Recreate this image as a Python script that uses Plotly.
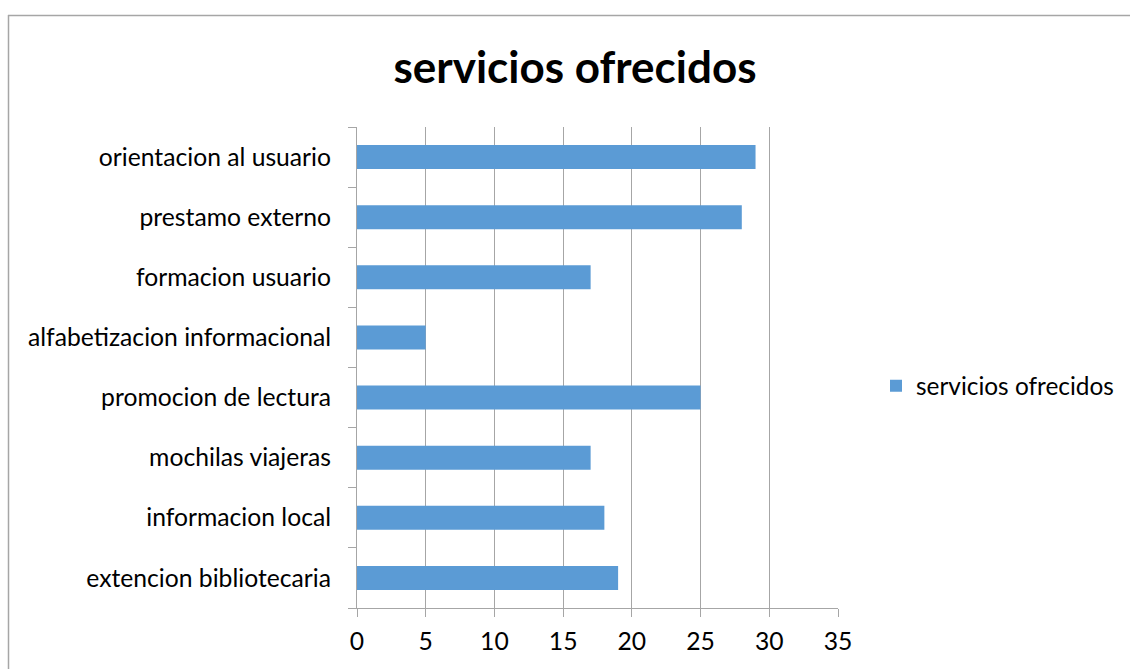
import plotly.graph_objects as go

# Services offered, listed bottom-to-top as they appear on the category axis
categories = [
    "extencion bibliotecaria",
    "informacion local",
    "mochilas viajeras",
    "promocion de lectura",
    "alfabetizacion informacional",
    "formacion usuario",
    "prestamo externo",
    "orientacion al usuario",
]
values = [19, 18, 17, 25, 5, 17, 28, 29]
x_ticks = [0, 5, 10, 15, 20, 25, 30, 35]
series_name = "servicios ofrecidos"

W, H = 1130, 669
L, R, T, B = 357, 838, 127, 608  # plot area in pixels
FONT = "Lato"
GRID = "#A6A6A6"
LABEL_SIZE = 24.7


def px_x(p):
    return (p - L) / (R - L)


def px_y(p):
    return (B - p) / (B - T)


fig = go.Figure(
    go.Bar(
        x=values,
        y=categories,
        orientation="h",
        width=0.4,
        marker=dict(color="#5B9BD5", line=dict(width=0)),
        name=series_name,
        showlegend=True,
    )
)

fig.update_layout(
    width=W,
    height=H,
    margin=dict(l=L, r=W - R, t=T, b=H - B, pad=0, autoexpand=False),
    paper_bgcolor="white",
    plot_bgcolor="white",
    font=dict(family=FONT, size=LABEL_SIZE, color="#000000"),
    title=dict(
        text="<b>servicios ofrecidos</b>",
        font=dict(family=FONT, size=44, color="#000000"),
        x=575 / W,
        xanchor="center",
        y=1 - 68 / H,
        yanchor="middle",
    ),
    legend=dict(
        xref="container",
        yref="container",
        x=876 / W,
        y=1 - 386 / H,
        xanchor="left",
        yanchor="middle",
        font=dict(family=FONT, size=24.4),
        bgcolor="rgba(0,0,0,0)",
        itemwidth=30,
    ),
    xaxis=dict(
        range=[0, 35],
        tickvals=x_ticks,
        showgrid=True,
        gridcolor=GRID,
        gridwidth=1,
        zeroline=False,
        showline=True,
        linecolor=GRID,
        linewidth=1,
        ticks="outside",
        ticklen=8,
        tickcolor=GRID,
        ticklabelstandoff=3,
        tickfont=dict(family=FONT, size=LABEL_SIZE),
        fixedrange=True,
    ),
    yaxis=dict(
        categoryorder="array",
        categoryarray=categories,
        showgrid=False,
        zeroline=False,
        showline=True,
        linecolor=GRID,
        linewidth=1,
        ticks="outside",
        tickson="boundaries",
        ticklen=8,
        tickcolor=GRID,
        ticklabelstandoff=20,
        tickfont=dict(family=FONT, size=LABEL_SIZE),
        fixedrange=True,
    ),
    shapes=[
        # chart frame (left and top edges)
        dict(type="line", xref="paper", yref="paper",
             x0=px_x(8.5), x1=px_x(8.5), y0=px_y(15), y1=px_y(H + 5),
             line=dict(color=GRID, width=1.5)),
        dict(type="line", xref="paper", yref="paper",
             x0=px_x(8), x1=px_x(W + 5), y0=px_y(15.5), y1=px_y(15.5),
             line=dict(color=GRID, width=1.5)),
    ],
)

fig.write_html("out.html")
